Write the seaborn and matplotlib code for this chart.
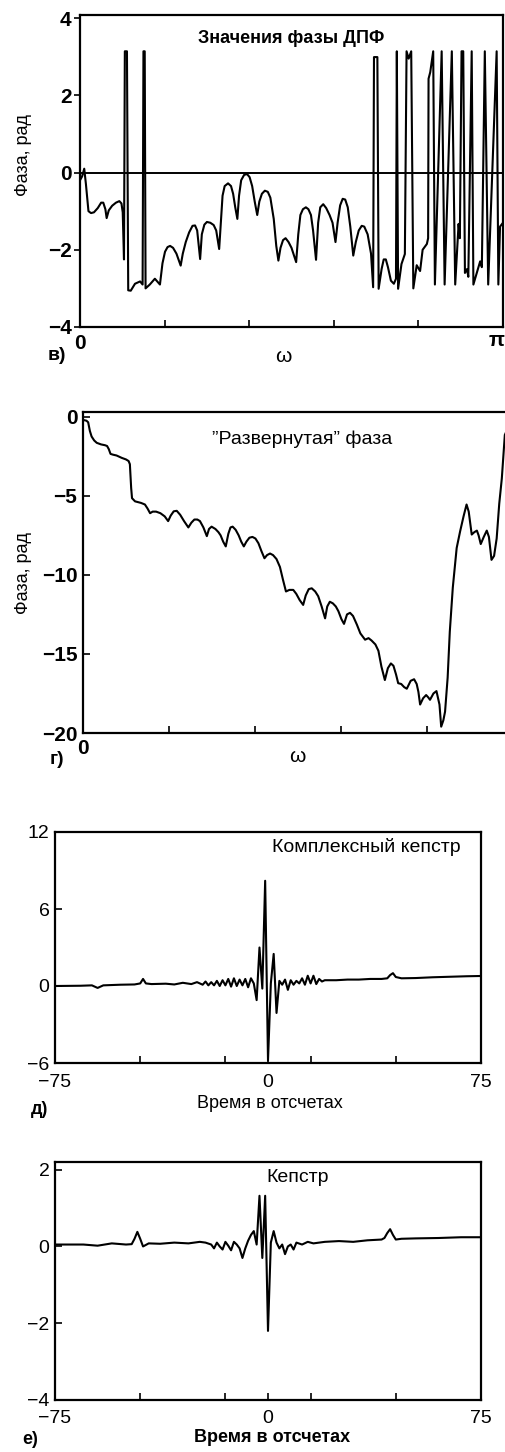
import matplotlib
matplotlib.use('Agg')
import matplotlib.pyplot as plt
import seaborn as sns

# в) wrapped DFT phase: (frequency in units of pi, phase in rad)
phase_pts = [
    (0.000, -0.20), (0.005, -0.10), (0.010, 0.10), (0.014, -0.30), (0.020, -1.00),
    (0.026, -1.05), (0.033, -1.03), (0.042, -0.92), (0.050, -0.78), (0.055, -0.78),
    (0.060, -0.95), (0.063, -1.18), (0.068, -0.98), (0.076, -0.86), (0.085, -0.78),
    (0.093, -0.74), (0.098, -0.80), (0.101, -1.03), (0.104, -2.25), (0.106, 3.14),
    (0.111, 3.14), (0.114, -3.05), (0.120, -3.06), (0.130, -2.88), (0.142, -2.82),
    (0.148, -2.90), (0.150, 3.14), (0.153, 3.14), (0.155, -3.00), (0.165, -2.90),
    (0.177, -2.75), (0.189, -2.90), (0.195, -2.35), (0.201, -2.05), (0.207, -1.93),
    (0.213, -1.90), (0.220, -1.95), (0.228, -2.10), (0.238, -2.41), (0.243, -2.10),
    (0.250, -1.80), (0.258, -1.55), (0.266, -1.38), (0.272, -1.37), (0.277, -1.50),
    (0.284, -2.24), (0.288, -1.60), (0.294, -1.35), (0.300, -1.28), (0.308, -1.30),
    (0.316, -1.36), (0.322, -1.50), (0.329, -1.98), (0.333, -1.30), (0.337, -0.60),
    (0.342, -0.35), (0.350, -0.28), (0.357, -0.35), (0.362, -0.55), (0.367, -0.90),
    (0.372, -1.20), (0.376, -0.60), (0.381, -0.20), (0.388, -0.06), (0.395, -0.04),
    (0.401, -0.12), (0.407, -0.35), (0.413, -0.75), (0.419, -1.10), (0.424, -0.75),
    (0.430, -0.55), (0.437, -0.47), (0.444, -0.50), (0.450, -0.65), (0.458, -1.20),
    (0.464, -1.90), (0.469, -2.28), (0.474, -1.95), (0.480, -1.75), (0.486, -1.70),
    (0.493, -1.80), (0.500, -1.95), (0.506, -2.15), (0.511, -2.32), (0.516, -1.60),
    (0.521, -1.10), (0.527, -0.95), (0.534, -0.90), (0.540, -0.95), (0.546, -1.10),
    (0.551, -1.50), (0.558, -2.26), (0.563, -1.30), (0.568, -0.90), (0.575, -0.82),
    (0.582, -0.92), (0.590, -1.10), (0.597, -1.30), (0.604, -1.80), (0.609, -1.30),
    (0.615, -0.85), (0.621, -0.68), (0.627, -0.70), (0.633, -0.90), (0.639, -1.40),
    (0.646, -2.15), (0.652, -1.80), (0.659, -1.50), (0.666, -1.38), (0.672, -1.40),
    (0.680, -1.60), (0.688, -2.10), (0.693, -2.97), (0.695, 2.99), (0.703, 2.99),
    (0.706, -3.01), (0.713, -2.50), (0.718, -2.25), (0.723, -2.25), (0.728, -2.45),
    (0.735, -2.80), (0.742, -2.88), (0.747, -2.75), (0.749, 3.14), (0.752, -3.01),
    (0.760, -2.37), (0.768, -2.11), (0.772, 3.14), (0.777, 2.95), (0.783, 3.14),
    (0.788, -3.00), (0.796, -2.40), (0.804, -2.55), (0.810, -2.00), (0.820, -1.85),
    (0.823, -1.70), (0.824, 2.43), (0.828, 2.60), (0.835, 3.14), (0.839, -2.90),
    (0.855, 3.14), (0.862, -2.90), (0.879, 3.14), (0.887, -2.90), (0.895, -1.33),
    (0.898, -1.70), (0.902, 3.14), (0.906, 3.14), (0.910, -2.60), (0.915, -2.50),
    (0.918, -2.70), (0.926, 3.14), (0.930, -2.90), (0.946, -2.30), (0.950, -2.45),
    (0.957, 3.14), (0.965, -2.90), (0.985, 3.14), (0.989, -2.90), (0.993, -1.40),
    (1.000, -1.30),
]

# г) unwrapped phase: (frequency in units of pi, phase in rad)
unwrap_pts = [
    (0.000, -0.20), (0.008, -0.25), (0.012, -0.35), (0.016, -0.90), (0.020, -1.25),
    (0.026, -1.50), (0.032, -1.65), (0.042, -1.75), (0.051, -1.80), (0.056, -1.85),
    (0.060, -2.05), (0.064, -2.35), (0.070, -2.40), (0.078, -2.45), (0.090, -2.60),
    (0.100, -2.70), (0.106, -2.80), (0.109, -3.00), (0.112, -4.50), (0.114, -5.15),
    (0.121, -5.35), (0.135, -5.45), (0.144, -5.55), (0.150, -5.80), (0.156, -6.10),
    (0.162, -6.00), (0.170, -6.00), (0.180, -6.10), (0.190, -6.30), (0.198, -6.60),
    (0.204, -6.25), (0.211, -5.98), (0.218, -5.95), (0.226, -6.20), (0.235, -6.60),
    (0.245, -7.00), (0.252, -6.70), (0.259, -6.50), (0.266, -6.50), (0.272, -6.60),
    (0.280, -7.00), (0.288, -7.55), (0.293, -7.10), (0.299, -6.95), (0.308, -7.10),
    (0.315, -7.30), (0.320, -7.50), (0.326, -7.90), (0.332, -8.20), (0.338, -7.40),
    (0.343, -7.00), (0.348, -6.95), (0.355, -7.15), (0.362, -7.50), (0.368, -7.90),
    (0.374, -8.20), (0.380, -7.90), (0.387, -7.65), (0.394, -7.60), (0.401, -7.70),
    (0.408, -8.00), (0.415, -8.50), (0.422, -8.95), (0.428, -8.75), (0.435, -8.65),
    (0.442, -8.75), (0.450, -9.00), (0.458, -9.50), (0.465, -10.30), (0.472, -11.05),
    (0.480, -10.95), (0.489, -10.95), (0.496, -11.20), (0.504, -11.60), (0.512, -11.90),
    (0.518, -11.30), (0.525, -10.90), (0.532, -10.85), (0.540, -11.05), (0.547, -11.35),
    (0.555, -12.00), (0.563, -12.75), (0.568, -12.00), (0.574, -11.70), (0.581, -11.80),
    (0.588, -12.00), (0.594, -12.30), (0.601, -12.80), (0.607, -13.10), (0.614, -12.50),
    (0.621, -12.40), (0.628, -12.60), (0.637, -13.15), (0.645, -13.70), (0.656, -14.10),
    (0.664, -14.00), (0.671, -14.15), (0.680, -14.40), (0.687, -14.80), (0.694, -15.80),
    (0.702, -16.65), (0.709, -15.90), (0.716, -15.60), (0.722, -15.75), (0.728, -16.30),
    (0.733, -16.85), (0.740, -16.90), (0.747, -17.10), (0.753, -17.20), (0.762, -16.70),
    (0.770, -16.60), (0.776, -16.90), (0.780, -17.40), (0.784, -18.20), (0.791, -17.80),
    (0.798, -17.60), (0.803, -17.75), (0.807, -17.90), (0.815, -17.50), (0.822, -17.35),
    (0.829, -18.20), (0.833, -19.60), (0.838, -19.20), (0.842, -18.65), (0.848, -16.50),
    (0.853, -13.60), (0.860, -10.80), (0.869, -8.30), (0.877, -7.25), (0.885, -6.30),
    (0.892, -5.55), (0.897, -6.00), (0.904, -7.45), (0.910, -7.30), (0.916, -7.20),
    (0.920, -7.50), (0.925, -8.05), (0.932, -7.60), (0.939, -7.20), (0.944, -7.60),
    (0.950, -9.05), (0.956, -8.80), (0.962, -7.70), (0.968, -5.50), (0.974, -3.90),
    (0.981, -1.15), (1.000, 0.00),
]

# д) complex cepstrum: (sample index, value)
ccep_pts = [
    (-75, 0.00), (-66, 0.02), (-62, 0.05), (-60, -0.15), (-58, 0.05), (-52, 0.10),
    (-47, 0.12), (-45, 0.20), (-44, 0.55), (-43, 0.20), (-41, 0.15), (-36, 0.18),
    (-33, 0.12), (-30, 0.25), (-27, 0.15), (-25, 0.30), (-23, 0.10), (-22, 0.35),
    (-21, 0.05), (-20, 0.30), (-19, 0.05), (-18, 0.40), (-17, 0.00), (-16, 0.45),
    (-15, 0.05), (-14, 0.55), (-13, -0.05), (-12, 0.60), (-11, 0.00), (-10, 0.50),
    (-9, 0.05), (-8, 0.55), (-7, -0.10), (-6, 0.60), (-5, 0.20), (-4, -1.10),
    (-3, 3.00), (-2, -0.20), (-1, 8.20), (0, -5.80), (1, 0.20), (2, 2.50),
    (3, -2.10), (4, 0.40), (5, 0.10), (6, 0.50), (7, -0.30), (8, 0.45),
    (9, 0.10), (10, 0.40), (11, 0.20), (12, 0.60), (13, 0.10), (14, 0.80),
    (15, 0.20), (16, 0.80), (17, 0.15), (18, 0.55), (19, 0.35), (20, 0.45),
    (24, 0.45), (28, 0.50), (32, 0.50), (36, 0.55), (40, 0.55), (42, 0.60),
    (43, 0.85), (44, 1.00), (45, 0.70), (47, 0.60), (52, 0.62), (58, 0.68),
    (64, 0.72), (70, 0.76), (75, 0.78),
]

# е) cepstrum: (sample index, value)
cep_pts = [
    (-75, 0.05), (-65, 0.05), (-60, 0.02), (-55, 0.08), (-50, 0.05), (-48, 0.06),
    (-47, 0.20), (-46, 0.38), (-45, 0.20), (-44, 0.00), (-42, 0.08), (-38, 0.07),
    (-33, 0.10), (-28, 0.08), (-24, 0.12), (-22, 0.10), (-20, 0.05), (-19, -0.05),
    (-18, 0.10), (-17, 0.00), (-16, -0.08), (-15, 0.12), (-14, 0.02), (-13, -0.10),
    (-12, 0.12), (-11, 0.05), (-10, -0.05), (-9, -0.30), (-8, -0.05), (-7, 0.15),
    (-6, 0.30), (-5, 0.40), (-4, 0.05), (-3, 1.32), (-2, -0.30), (-1, 1.32),
    (0, -2.20), (1, 0.10), (2, 0.40), (3, 0.10), (4, -0.05), (5, 0.05),
    (6, -0.20), (7, 0.00), (8, 0.05), (9, -0.08), (10, 0.10), (12, 0.05),
    (14, 0.12), (16, 0.08), (20, 0.12), (25, 0.14), (30, 0.12), (35, 0.16),
    (40, 0.18), (41, 0.22), (42, 0.35), (43, 0.45), (44, 0.30), (45, 0.18),
    (47, 0.20), (52, 0.21), (60, 0.22), (68, 0.24), (75, 0.24),
]

phase_w, phase_val = zip(*phase_pts)
unwrap_w, unwrap_val = zip(*unwrap_pts)
ccep_n, ccep_val = zip(*ccep_pts)
cep_n, cep_val = zip(*cep_pts)

W, H = 505, 1452

sns.set_theme(style='ticks', rc={'axes.edgecolor': 'black', 'axes.linewidth': 1.6,
                                 'xtick.color': 'black', 'ytick.color': 'black',
                                 'text.color': 'black'})
plt.rcParams['font.family'] = ['Liberation Sans', 'DejaVu Sans']

fig = plt.figure(figsize=(W / 100, H / 100), dpi=100)


def box(l, r, t, b):
    return [l / W, 1 - b / H, (r - l) / W, (b - t) / H]


def put(x, y, s, **kw):
    fig.text(x / W, 1 - y / H, s, ha='center', va='center', **kw)


line_kw = dict(color='black', lw=1.5, sort=False, estimator=None)
big = dict(fontsize=15, fontweight='bold')

# --- в) wrapped phase ---
ax1 = fig.add_axes(box(80, 503, 15, 327))
sns.lineplot(x=list(phase_w), y=list(phase_val), ax=ax1, **line_kw)
ax1.axhline(0, color='black', lw=1.4)
ax1.set_xlim(0, 1)
ax1.set_ylim(-4, 4.08)
ax1.set_xticks([0, 0.2, 0.4, 0.6, 0.8, 1.0])
ax1.set_xticklabels(['0', '', '', '', '', ''], **big)
ax1.set_yticks([-4, -2, 0, 2, 4])
ax1.set_yticklabels(['−4', '−2', '0', '2', '4'], **big)
ax1.tick_params(axis='x', direction='in', length=5, width=1.2, pad=5)
ax1.tick_params(axis='y', direction='out', length=4, width=1.2, pad=2)
ax1.text(0.5, 0.925, 'Значения фазы ДПФ', transform=ax1.transAxes, ha='center',
         va='center', fontsize=13, fontweight='bold')
put(497, 341, 'π', **big)
put(23, 155, 'Фаза, рад', rotation=90, fontsize=13)
put(283, 356, 'ω', fontsize=15)
put(57, 355, 'в)', fontsize=14, fontweight='bold')

# --- г) unwrapped phase ---
ax2 = fig.add_axes(box(83, 513, 412, 733))
sns.lineplot(x=list(unwrap_w), y=list(unwrap_val), ax=ax2, **line_kw)
ax2.spines['right'].set_visible(False)
ax2.set_xlim(0, 1)
ax2.set_ylim(-20, 0.3)
ax2.set_xticks([0, 0.2, 0.4, 0.6, 0.8, 1.0])
ax2.set_xticklabels(['0', '', '', '', '', ''], **big)
ax2.set_yticks([-20, -15, -10, -5, 0])
ax2.set_yticklabels(['−20', '−15', '−10', '−5', '0'], **big)
ax2.tick_params(axis='both', direction='in', length=5, width=1.2, pad=4)
ax2.text(0.51, 0.915, '\u201dРазвернутая\u201d фаза', transform=ax2.transAxes,
         ha='center', va='center', fontsize=14)
put(23, 573, 'Фаза, рад', rotation=90, fontsize=13)
put(297, 756, 'ω', fontsize=15)
put(57, 760, 'г)', fontsize=14, fontweight='bold')

# --- д) complex cepstrum ---
ax3 = fig.add_axes(box(55, 481, 832, 1063))
sns.lineplot(x=list(ccep_n), y=list(ccep_val), ax=ax3, **line_kw)
ax3.set_xlim(-75, 75)
ax3.set_ylim(-6, 12)
ax3.set_xticks([-75, -45, -15, 0, 15, 45, 75])
ax3.set_xticklabels(['−75', '', '', '0', '', '', '75'], fontsize=14)
ax3.set_yticks([-6, 0, 6, 12])
ax3.set_yticklabels(['−6', '0', '6', '12'], fontsize=14)
ax3.tick_params(axis='both', direction='in', length=5, width=1.2, pad=4)
ax3.tick_params(axis='x', pad=8)
ax3.text(0.73, 0.935, 'Комплексный кепстр', transform=ax3.transAxes,
         ha='center', va='center', fontsize=14)
put(270, 1103, 'Время в отсчетах', fontsize=13)
put(40, 1109, 'д)', fontsize=13, fontweight='bold')

# --- е) cepstrum ---
ax4 = fig.add_axes(box(55, 481, 1162, 1400))
sns.lineplot(x=list(cep_n), y=list(cep_val), ax=ax4, **line_kw)
ax4.set_xlim(-75, 75)
ax4.set_ylim(-4, 2.2)
ax4.set_xticks([-75, -45, -15, 0, 15, 45, 75])
ax4.set_xticklabels(['−75', '', '', '0', '', '', '75'], fontsize=14)
ax4.set_yticks([-4, -2, 0, 2])
ax4.set_yticklabels(['−4', '−2', '0', '2'], fontsize=14)
ax4.tick_params(axis='both', direction='in', length=5, width=1.2, pad=4)
ax4.tick_params(axis='x', pad=7)
ax4.text(0.57, 0.935, 'Кепстр', transform=ax4.transAxes,
         ha='center', va='center', fontsize=14)
put(272, 1437, 'Время в отсчетах', fontsize=13, fontweight='bold')
put(30, 1439, 'е)', fontsize=13, fontweight='bold')

for ax in (ax1, ax2, ax3, ax4):
    ax.set_xlabel('')
    ax.set_ylabel('')

fig.savefig('out.png', dpi=100)
